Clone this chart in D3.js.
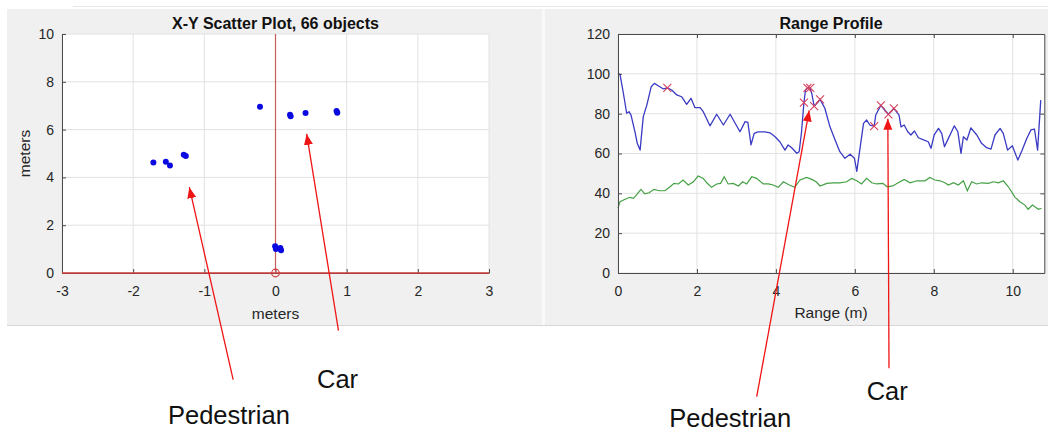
<!DOCTYPE html>
<html><head><meta charset="utf-8">
<script src="https://cdn.jsdelivr.net/npm/d3@7"></script>
<style>
body{margin:0;background:#fff;}
svg{display:block;font-family:"Liberation Sans",Arial,Helvetica,sans-serif;}
</style></head><body>
<svg id="c" width="1048" height="433"></svg>
<script>
// ---------- data ----------
const scatterX = [-1.716,-1.541,-1.483,-1.289,-1.260,-0.218,0.204,0.213,0.422,0.858,0.868,-0.005,0.005,0.068,0.078];
const scatterY = [4.62,4.66,4.50,4.95,4.90,6.96,6.62,6.56,6.69,6.78,6.71,1.12,1.00,1.05,0.95];
const xyTicksX = [-3,-2,-1,0,1,2,3];
const xyTicksY = [0,2,4,6,8,10];

const rangeM = [0.00,0.05,0.13,0.22,0.28,0.33,0.43,0.49,0.56,0.64,0.73,0.84,0.92,1.02,1.15,1.25,1.36,1.49,1.61,1.74,1.85,1.95,2.08,2.16,2.33,2.50,2.67,2.84,3.09,3.22,3.29,3.37,3.45,3.55,3.72,3.85,3.98,4.10,4.23,4.31,4.40,4.53,4.59,4.65,4.71,4.75,4.80,4.87,4.91,4.97,5.07,5.12,5.24,5.37,5.50,5.62,5.75,5.88,5.99,6.05,6.22,6.30,6.38,6.49,6.53,6.66,6.72,6.85,6.93,6.99,7.12,7.17,7.25,7.34,7.42,7.51,7.61,7.74,7.86,7.93,8.01,8.12,8.20,8.27,8.37,8.45,8.52,8.61,8.69,8.75,8.84,8.94,9.09,9.21,9.34,9.45,9.55,9.68,9.76,9.87,9.99,10.13,10.23,10.35,10.46,10.55,10.63,10.71];
const signalDb = [100.2,99.7,91,80.2,81,79.3,70.9,65,61.7,78.5,84.3,93.5,95.2,94,92.4,93,91.9,89.4,88.5,84.7,87.7,83,83,81,73.9,79.7,74.3,79.7,70.9,76,75.6,64.3,70.1,70.9,70.9,70.4,68.4,65.9,61.7,64.3,62.9,60.1,60.9,70.9,85.5,91.9,92.9,92.9,90,83.8,86,87.2,82.7,73.4,66.8,60.9,57.6,59.6,57.6,51,75.1,76.8,74.3,73.8,79.3,84.2,82.7,79.7,81.3,82.7,79.3,73.4,74.3,70.9,69.3,71.3,67.9,66.8,65.9,62.6,69.3,72.6,70.1,63.4,67.6,70.9,73.9,70.9,60.1,68.4,66.8,72.9,69.3,65.1,62.9,62.2,69.3,72.6,70.1,61.7,63.9,56.7,61.2,67.3,71.8,72.3,61.7,86.8];

const noiseRange = [0.00,0.05,0.18,0.30,0.39,0.47,0.58,0.68,0.79,0.91,1.05,1.19,1.32,1.42,1.53,1.65,1.78,1.91,2.03,2.16,2.25,2.37,2.50,2.60,2.69,2.79,2.92,3.05,3.16,3.26,3.39,3.51,3.68,3.81,3.93,4.06,4.19,4.34,4.48,4.61,4.78,4.91,5.02,5.12,5.29,5.46,5.62,5.79,5.92,6.05,6.17,6.30,6.43,6.55,6.71,6.82,6.96,7.10,7.25,7.40,7.57,7.78,7.90,8.03,8.16,8.28,8.37,8.50,8.62,8.75,8.85,8.96,9.09,9.21,9.38,9.51,9.64,9.76,9.89,10.06,10.18,10.31,10.39,10.50,10.56,10.65,10.73];
const noiseDb = [32.5,35.8,37,38,37.5,39.2,42,39.7,40.3,42,41.3,41.3,43.3,45,44.7,46.7,44.2,45.8,48.7,47.5,45.3,43,44.7,45,48.3,44.7,45,43.7,45.8,44.7,48.3,47.5,44.7,44.7,44.2,43,45.8,44.2,43,46.7,48,47,45.8,43.7,45,45.3,45.3,45.8,47.5,46.3,44.7,47.5,45.3,44.7,45,43.3,43.7,45.3,47,45.3,46.3,46.3,48,46.7,46.3,45.3,44.2,45.3,44.2,46.3,41.3,45.8,44.7,45.3,45,45.8,45.3,46.3,43.3,38,35.8,34.1,32,34.1,33.3,32,32.5];

const peakRange = [1.25,4.71,4.80,4.87,4.97,5.12,6.49,6.66,6.85,6.99];
const peakDb = [93,85.5,92.9,92.9,83.8,87.2,73.8,84.2,79.7,82.7];

const rangeTicksX = [0,2,4,6,8,10];
const rangeTicksY = [0,20,40,60,80,100,120];

// annotations (data coordinates of the panel they belong to)
const annoPanel = ["xy","xy","range","range"];
const annoText = ["Pedestrian","Car","Pedestrian","Car"];
const annoHeadX = [-1.211,0.438,4.844,6.836];
const annoHeadY = [3.59,5.82,81.6,77.4];
const annoTailX = [-0.595,0.885,3.514,6.866];
const annoTailY = [-4.46,-2.41,-62.1,-47.8];
const annoTextX = [-1.511,0.583,1.30,6.301];
const annoTextY = [-6.32,-4.80,-77.3,-63.8];

// ---------- drawing ----------
const svg = d3.select("#c");
const AX = "#4a4a4a", GRID = "#e2e2e2", TXT = "#262626";

// panels
svg.append("rect").attr("x",7).attr("y",9).attr("width",535).attr("height",316).attr("fill","#f0f0f0");
svg.append("rect").attr("x",545).attr("y",9).attr("width",503).attr("height",316).attr("fill","#f0f0f0");
svg.append("rect").attr("x",542).attr("y",9).attr("width",3).attr("height",316).attr("fill","#f9f9f9");
svg.append("line").attr("x1",7).attr("x2",1048).attr("y1",325.5).attr("y2",325.5).attr("stroke","#d6d6d6");
svg.append("line").attr("x1",73).attr("x2",1048).attr("y1",6.5).attr("y2",6.5).attr("stroke","#e6e6e6");

svg.append("defs").append("marker")
  .attr("id","ah").attr("markerUnits","userSpaceOnUse")
  .attr("markerWidth",12).attr("markerHeight",10).attr("refX",11).attr("refY",4.5)
  .attr("orient","auto")
  .append("path").attr("d","M0,0L11,4.5L0,9Z").attr("fill","#f01515");

// ---- left: X-Y scatter ----
const x1 = d3.scaleLinear().domain([-3,3]).range([62,489]);
const y1 = d3.scaleLinear().domain([0,10]).range([273,34]);
const g1 = svg.append("g");
g1.append("rect").attr("x",62).attr("y",34).attr("width",427).attr("height",239).attr("fill","#fff");
g1.selectAll(".gx").data(xyTicksX).join("line")
  .attr("x1",d=>x1(d)).attr("x2",d=>x1(d)).attr("y1",34).attr("y2",273).attr("stroke",GRID);
g1.selectAll(".gy").data(xyTicksY).join("line")
  .attr("y1",d=>y1(d)).attr("y2",d=>y1(d)).attr("x1",62).attr("x2",489).attr("stroke",GRID);

const ax1 = g1.append("g").attr("transform","translate(0,273)")
  .call(d3.axisBottom(x1).tickValues(xyTicksX).tickSize(-4).tickSizeOuter(0).tickPadding(13).tickFormat(d3.format("d")));
const ay1 = g1.append("g").attr("transform","translate(62,0)")
  .call(d3.axisLeft(y1).tickValues(xyTicksY).tickSize(-4).tickSizeOuter(0).tickPadding(8).tickFormat(d3.format("d")));
[ax1,ay1].forEach(a=>{
  a.selectAll("path,line").attr("stroke",AX);
  a.selectAll("text").attr("fill",TXT).style("font-size","14px");
});
ax1.selectAll("text").text(d=>d<0?"-"+Math.abs(d):d);

// red axis lines
g1.append("line").attr("x1",x1(-3)).attr("x2",x1(3)).attr("y1",y1(0)).attr("y2",y1(0)).attr("stroke","#d23c3c").attr("stroke-width",1.3);
g1.append("line").attr("x1",x1(0)).attr("x2",x1(0)).attr("y1",y1(0)).attr("y2",y1(10)).attr("stroke","#c85a5a").attr("stroke-width",1.2);
g1.append("circle").attr("cx",x1(0)).attr("cy",y1(0)).attr("r",3.8).attr("fill","none").attr("stroke","#d23c3c").attr("stroke-width",1.2);

g1.selectAll(".pt").data(scatterX).join("circle")
  .attr("cx",d=>x1(d)).attr("cy",(d,i)=>y1(scatterY[i])).attr("r",3).attr("fill","#0a0ae0");

g1.append("text").attr("x",275.5).attr("y",29).attr("text-anchor","middle")
  .style("font-size","16px").style("font-weight","bold").attr("fill","#111").text("X-Y Scatter Plot, 66 objects");
g1.append("text").attr("x",275.5).attr("y",319).attr("text-anchor","middle")
  .style("font-size","15.5px").attr("fill",TXT).text("meters");
g1.append("text").attr("transform","translate(30,153.5) rotate(-90)").attr("text-anchor","middle")
  .style("font-size","15.5px").attr("fill",TXT).text("meters");

// ---- right: Range profile ----
const x2 = d3.scaleLinear().domain([0,10.8]).range([618,1044.3]);
const y2 = d3.scaleLinear().domain([0,120]).range([273,34]);
const g2 = svg.append("g");
g2.append("rect").attr("x",618).attr("y",34).attr("width",426.3).attr("height",239).attr("fill","#fff");
g2.selectAll(".gx").data(rangeTicksX).join("line")
  .attr("x1",d=>x2(d)).attr("x2",d=>x2(d)).attr("y1",34).attr("y2",273).attr("stroke",GRID);
g2.selectAll(".gy").data(rangeTicksY).join("line")
  .attr("y1",d=>y2(d)).attr("y2",d=>y2(d)).attr("x1",618).attr("x2",1044.3).attr("stroke",GRID);

const line2 = d3.line().x(d=>x2(d[0])).y(d=>y2(d[1]));
g2.append("path").datum(noiseRange.map((r,i)=>[r,noiseDb[i]])).attr("d",line2)
  .attr("fill","none").attr("stroke","#44a044").attr("stroke-width",1.2);
g2.append("path").datum(rangeM.map((r,i)=>[r,signalDb[i]])).attr("d",line2)
  .attr("fill","none").attr("stroke","#3a3ac4").attr("stroke-width",1.3).attr("stroke-linejoin","round");
g2.selectAll(".pk").data(peakRange).join("path")
  .attr("transform",(d,i)=>`translate(${x2(d)},${y2(peakDb[i])})`)
  .attr("d","M-4,-4L4,4M-4,4L4,-4").attr("stroke","#d8405c").attr("stroke-width",1.1).attr("fill","none");

const ax2 = g2.append("g").attr("transform","translate(0,273)")
  .call(d3.axisBottom(x2).tickValues(rangeTicksX).tickSize(-4).tickSizeOuter(0).tickPadding(13));
const ay2 = g2.append("g").attr("transform","translate(618,0)")
  .call(d3.axisLeft(y2).tickValues(rangeTicksY).tickSize(-4).tickSizeOuter(0).tickPadding(8));
const at2 = g2.append("g").attr("transform","translate(0,34)")
  .call(d3.axisTop(x2).tickValues(rangeTicksX).tickSize(-4).tickSizeOuter(0).tickFormat(""));
const ar2 = g2.append("g").attr("transform","translate(1044.3,0)")
  .call(d3.axisRight(y2).tickValues(rangeTicksY).tickSize(-4).tickSizeOuter(0).tickFormat(""));
[ax2,ay2,at2,ar2].forEach(a=>{
  a.selectAll("path,line").attr("stroke",AX);
  a.selectAll("text").attr("fill",TXT).style("font-size","14px");
});

g2.append("text").attr("x",831).attr("y",28.5).attr("text-anchor","middle")
  .style("font-size","16px").style("font-weight","bold").attr("fill","#111").text("Range Profile");
g2.append("text").attr("x",831).attr("y",318).attr("text-anchor","middle")
  .style("font-size","15.5px").attr("fill",TXT).text("Range (m)");

// ---- annotations ----
const sc = {xy:[x1,y1], range:[x2,y2]};
annoText.forEach((t,i)=>{
  const [sx,sy] = sc[annoPanel[i]];
  svg.append("line")
    .attr("x1",sx(annoTailX[i])).attr("y1",sy(annoTailY[i]))
    .attr("x2",sx(annoHeadX[i])).attr("y2",sy(annoHeadY[i]))
    .attr("stroke","#f01515").attr("stroke-width",1.3).attr("marker-end","url(#ah)");
  svg.append("text").attr("x",sx(annoTextX[i])).attr("y",sy(annoTextY[i]))
    .style("font-size","25.5px").attr("fill","#111").text(t);
});
</script>
</body></html>
